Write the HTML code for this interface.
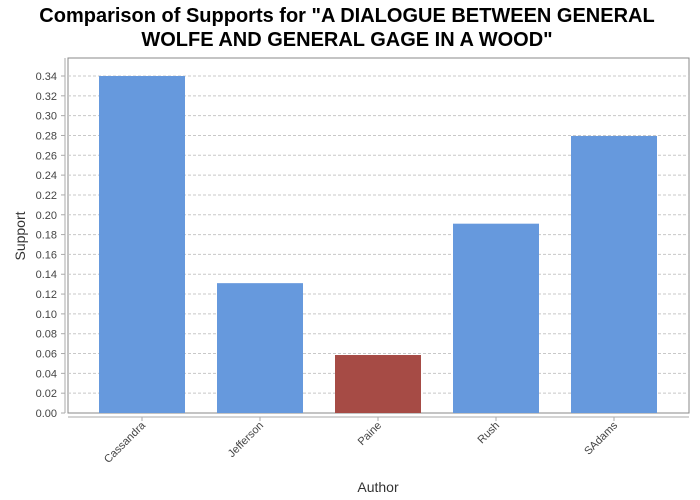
<!DOCTYPE html>
<html><head><meta charset="utf-8"><style>
body{margin:0;background:#fff;}
svg{display:block;font-family:"Liberation Sans",sans-serif;}
</style></head><body>
<svg id="c" width="700" height="500" xmlns="http://www.w3.org/2000/svg">
<text x="347" y="22" text-anchor="middle" font-size="20" font-weight="bold">Comparison of Supports for "A DIALOGUE BETWEEN GENERAL</text>
<text x="347" y="46" text-anchor="middle" font-size="20" font-weight="bold">WOLFE AND GENERAL GAGE IN A WOOD"</text>
<rect x="68" y="58" width="621" height="355" fill="#fff" stroke="#888"/>
<g id="grid"></g><g id="bars"></g><g id="axes"></g>
<text transform="translate(25,236) rotate(-90)" text-anchor="middle" font-size="14" fill="#333">Support</text>
<text x="378" y="492" text-anchor="middle" font-size="14" fill="#333">Author</text>
</svg>
<script>
const categories=["Cassandra","Jefferson","Paine","Rush","SAdams"];
const values=[0.34,0.131,0.0585,0.191,0.2795];
const colors=["#6699dd","#6699dd","#a64b45","#6699dd","#6699dd"];
const yTicks=[0,0.02,0.04,0.06,0.08,0.10,0.12,0.14,0.16,0.18,0.20,0.22,0.24,0.26,0.28,0.30,0.32,0.34];
const NS="http://www.w3.org/2000/svg";
const y=v=>413-v/0.34*337;
const x=i=>142+i*118;
function mk(t,a,p){const e=document.createElementNS(NS,t);for(const k in a)e.setAttribute(k,a[k]);p.appendChild(e);return e;}
const g=document.getElementById('grid'),b=document.getElementById('bars'),ax=document.getElementById('axes');
mk('line',{x1:65,y1:58,x2:65,y2:413,stroke:'#aaa'},ax);
mk('line',{x1:68,y1:417,x2:689,y2:417,stroke:'#aaa'},ax);
yTicks.forEach(v=>{
 const yy=y(v);
 if(v>0){const l=mk('line',{x1:68,y1:yy,x2:689,y2:yy,stroke:'#c8c8c8','stroke-dasharray':'3,2'},g);
 
 }
 mk('line',{x1:61,y1:yy,x2:65,y2:yy,stroke:'#aaa'},ax);
 const t=mk('text',{x:57,y:yy+4,'text-anchor':'end','font-size':11,fill:'#444'},ax);
 t.textContent=v.toFixed(2);
 
 
});
categories.forEach((c,i)=>{
 const r=mk('rect',{x:x(i)-43,y:y(values[i]),width:86,height:413-y(values[i]),fill:colors[i]},b);
 
 
 mk('line',{x1:x(i),y1:417,x2:x(i),y2:421,stroke:'#aaa'},ax);
 const t=mk('text',{transform:`translate(${x(i)+4},426) rotate(-45)`,'text-anchor':'end','font-size':11,fill:'#444'},ax);
 t.textContent=c;
 
 
});
</script>
</body></html>
